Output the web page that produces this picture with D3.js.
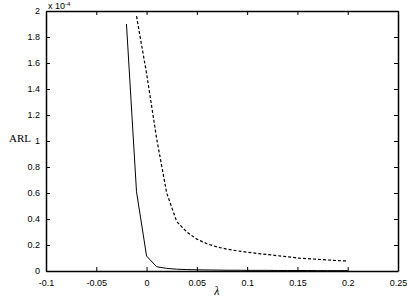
<!DOCTYPE html>
<html><head><meta charset="utf-8">
<script src="https://cdn.jsdelivr.net/npm/d3@7"></script>
<style>body{margin:0;background:#fff}svg{display:block}</style>
</head><body>
<script>
const solidX = [-0.02,-0.01,0,0.01,0.02,0.03,0.04,0.05,0.06,0.07,0.08,0.09,0.1,0.11,0.12,0.13,0.14,0.15,0.16,0.17,0.18,0.19,0.2];
const solidY = [1.9,0.61,0.115,0.033,0.02,0.014,0.011,0.009,0.008,0.007,0.006,0.006,0.005,0.005,0.005,0.004,0.004,0.004,0.004,0.003,0.003,0.003,0.003];
const dashX = [-0.01,0,0.01,0.02,0.03,0.04,0.05,0.06,0.07,0.08,0.09,0.1,0.11,0.12,0.13,0.14,0.15,0.16,0.17,0.18,0.19,0.2];
const dashY = [1.96,1.52,1.02,0.6,0.38,0.3,0.245,0.21,0.185,0.168,0.155,0.145,0.135,0.127,0.118,0.11,0.1,0.095,0.09,0.085,0.08,0.077];
const xTicks = [-0.1,-0.05,0,0.05,0.1,0.15,0.2,0.25];
const xTickLabels = ["-0.1","-0.05","0","0.05","0.1","0.15","0.2","0.25"];
const yTicks = [0,0.2,0.4,0.6,0.8,1,1.2,1.4,1.6,1.8,2];
const yTickLabels = ["0","0.2","0.4","0.6","0.8","1","1.2","1.4","1.6","1.8","2"];

const W=407,H=299, L=46,R=398,T=11,B=271;
const svg=d3.select("body").append("svg").attr("width",W).attr("height",H);
const x=d3.scaleLinear().domain([-0.1,0.25]).range([L,R]);
const y=d3.scaleLinear().domain([0,2]).range([B,T]);
const font="Liberation Sans, Arial, sans-serif";

const defs=svg.append("defs");
defs.append("clipPath").attr("id","c").append("rect").attr("x",L).attr("y",T).attr("width",R-L).attr("height",B-T);

const tl=4;
const gB=svg.append("g").attr("transform",`translate(0,${B})`)
  .call(d3.axisBottom(x).tickValues(xTicks).tickFormat((d,i)=>xTickLabels[i]).tickSizeInner(-tl).tickSizeOuter(0).tickPadding(7));
const gT=svg.append("g").attr("transform",`translate(0,${T})`)
  .call(d3.axisTop(x).tickValues(xTicks).tickFormat("").tickSizeInner(-tl).tickSizeOuter(0));
const gL=svg.append("g").attr("transform",`translate(${L},0)`)
  .call(d3.axisLeft(y).tickValues(yTicks).tickFormat((d,i)=>yTickLabels[i]).tickSizeInner(-tl).tickSizeOuter(0).tickPadding(6));
const gR=svg.append("g").attr("transform",`translate(${R},0)`)
  .call(d3.axisRight(y).tickValues(yTicks).tickFormat("").tickSizeInner(-tl).tickSizeOuter(0));
[gB,gT,gL,gR].forEach(g=>{
  g.select(".domain").attr("stroke","#000").attr("stroke-width",1.5);
  g.selectAll(".tick line").attr("stroke","#000");
  g.selectAll("text").attr("font-family",font).attr("font-size",9).attr("fill","#000");
});
gB.selectAll(".tick text").attr("dy","0.9em");

const plot=svg.append("g").attr("clip-path","url(#c)");
const line=d3.line().x(d=>x(d[0])).y(d=>y(d[1]));
plot.append("path").datum(solidX.map((v,i)=>[v,solidY[i]])).attr("d",line)
  .attr("fill","none").attr("stroke","#000").attr("stroke-width",1);
plot.append("path").datum(dashX.map((v,i)=>[v,dashY[i]])).attr("d",line)
  .attr("fill","none").attr("stroke","#000").attr("stroke-width",1.2).attr("stroke-dasharray","3,2");

// exponent
const ex=svg.append("text").attr("x",L+2).attr("y",9).attr("font-family",font).attr("font-size",9);
ex.append("tspan").text("x 10");
ex.append("tspan").attr("dy",-3).attr("font-size",6).text("-4");

svg.append("text").attr("x",9).attr("y",142).attr("font-family","Liberation Serif, Times New Roman, serif").attr("font-size",11).text("ARL");
svg.append("text").attr("x",x(0.07)).attr("y",295).attr("text-anchor","middle")
  .attr("font-family","Liberation Serif, Times New Roman, serif").attr("font-style","italic").attr("font-size",12).text("λ");
</script>
</body></html>
